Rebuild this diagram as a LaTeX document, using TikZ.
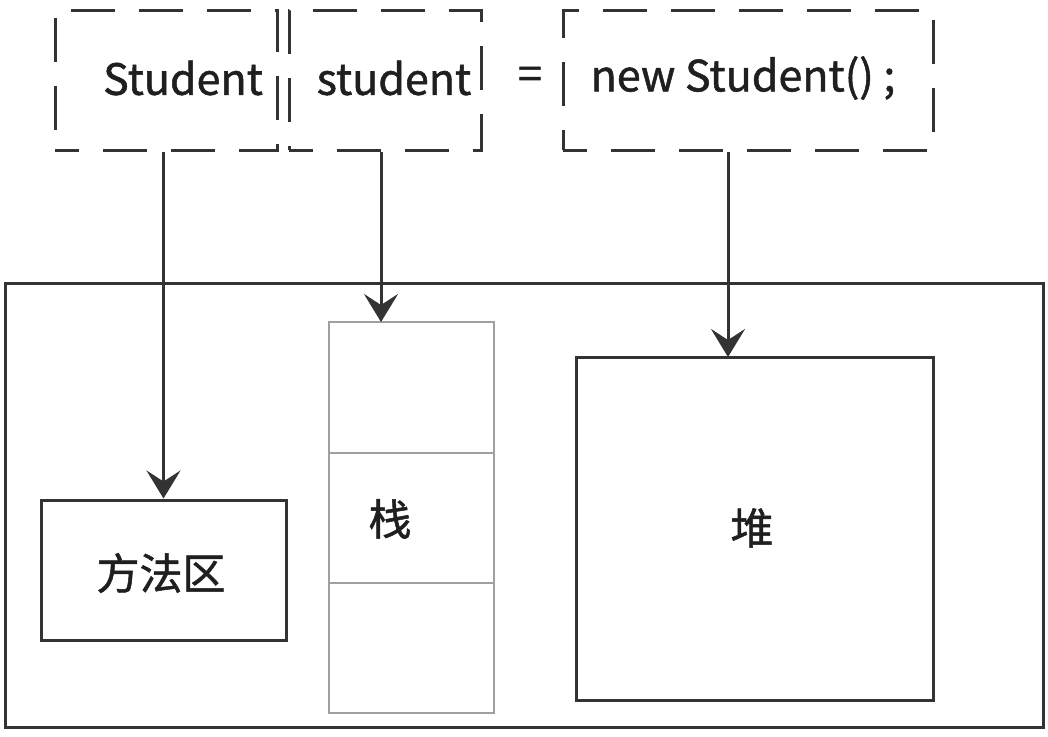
\documentclass[tikz,border=0pt]{standalone}
\usepackage{fontspec}
\setmainfont{Noto Sans CJK SC}[BoldFont=Noto Sans CJK SC, BoldFeatures={FakeBold=1.2}]
\usetikzlibrary{arrows.meta}
\definecolor{ink}{HTML}{333333}
\definecolor{stk}{HTML}{A0A0A0}
\begin{document}
\begin{tikzpicture}[x=1pt,y=-1pt,
  dashbox/.style={draw=ink,line width=3pt,dash pattern=on 44pt off 24pt,dash phase=20pt,minimum height=140pt,inner sep=0pt},
  solidbox/.style={draw=ink,line width=3pt,inner sep=0pt},
  stackcell/.style={draw=stk,line width=2.2pt,minimum width=165pt,inner sep=0pt},
  conn/.style={draw=ink,line width=3pt,-{Stealth[length=28pt,width=34pt,inset=11pt]}},
  txt/.style={font=\fontsize{43}{45}\selectfont\bfseries,text=black!88}]
\useasboundingbox (0,0) rectangle (1048,736);
\fill[white] (0,0) rectangle (1048,736);
% top line
\node[dashbox,minimum width=222pt] (t1) at (166,80) {};
\node[dashbox,minimum width=192pt] (t2) at (385,80) {};
\node[dashbox,minimum width=370pt] (t3) at (748,80) {};
\node[txt] (l1) at (183,78) {Student};
\node[txt] (l2) at (394,78) {student};
\node[txt] (eq) at (530,78) {=};
\node[txt] (l3) at (743,78) {new Student() ;};
% memory
\node[solidbox,minimum width=1038pt,minimum height=444pt] (mem) at (524,505) {};
\node[stackcell,minimum height=131pt] (s1) at (411.5,387.5) {};
\node[stackcell,minimum height=130pt] (s2) at (411.5,518) {};
\node[stackcell,minimum height=130pt] (s3) at (411.5,648) {};
\node[txt] at (390,519) {栈};
\node[solidbox,minimum width=357pt,minimum height=343pt] (heap) at (754.5,528.5) {};
\node[txt] at (752,528) {堆};
\node[solidbox,minimum width=245pt,minimum height=140pt] (mz) at (163.5,570) {};
\node[txt] at (161,573) {方法区};
% connectors
\draw[conn] (t1.south -| mz.north) -- (mz.north);
\coordinate (sx) at (381,322);
\draw[conn] (t2.south -| sx) -- (sx);
\coordinate (hx) at (728,357);
\draw[conn] (t3.south -| hx) -- (hx);
\end{tikzpicture}
\end{document}
